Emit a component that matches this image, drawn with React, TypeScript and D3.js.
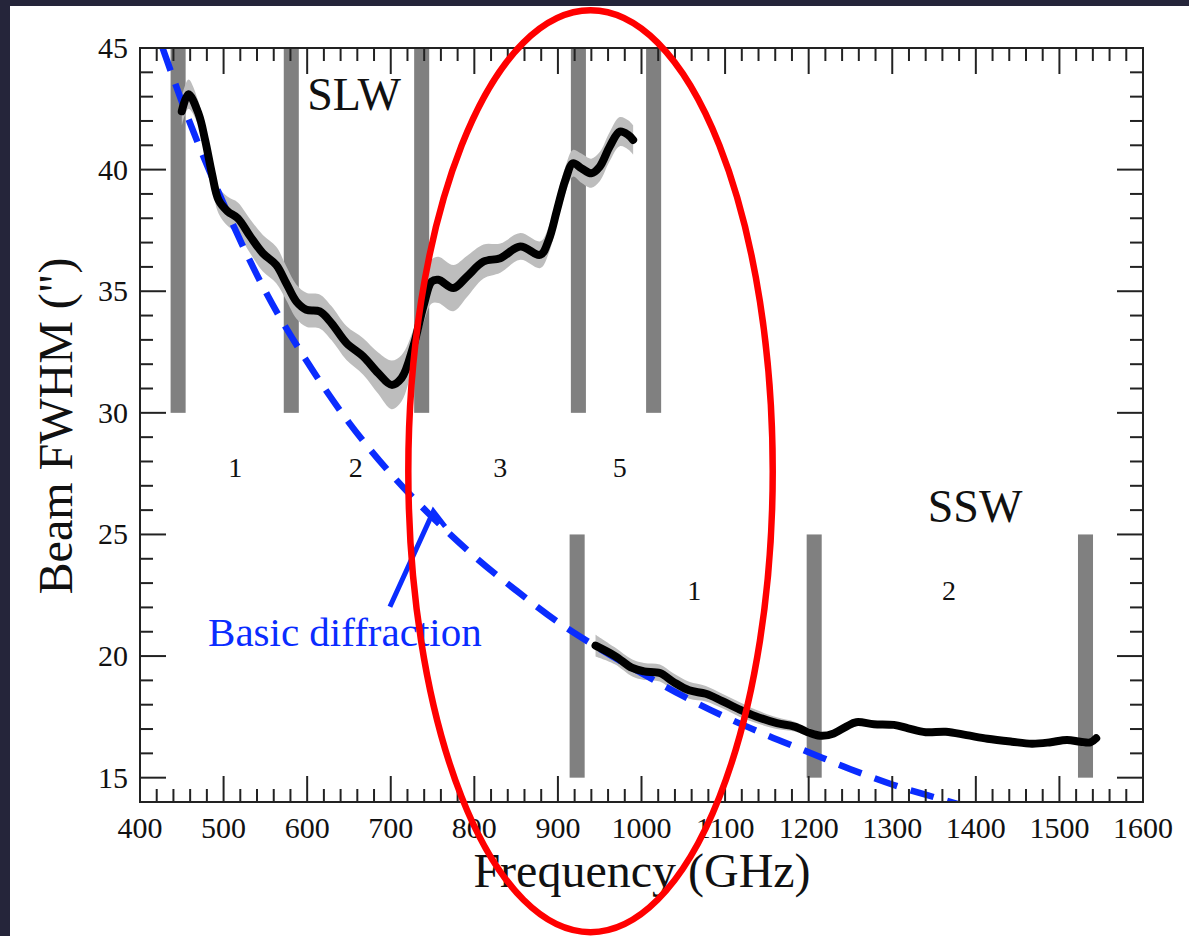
import React from 'react';
import * as d3 from 'd3';

// ---------- data ----------
const xTickValues = [400, 500, 600, 700, 800, 900, 1000, 1100, 1200, 1300, 1400, 1500, 1600];
const yTickValues = [15, 20, 25, 30, 35, 40, 45];

// SLW measured beam FWHM (GHz, arcsec, half-width of grey band)
const slwFreq = [450, 458, 470, 478, 486, 494, 505, 517, 532, 547, 563, 575, 587, 599, 615, 629, 647, 667, 685, 701, 713, 727, 739, 749, 757, 775, 791, 811, 831, 855, 879, 889, 899, 909, 918, 928, 940, 950, 962, 974, 984, 990];
const slwFwhm = [42.4, 43.1, 42.3, 41.2, 39.85, 38.75, 38.28, 38.0, 37.25, 36.56, 36.08, 35.33, 34.58, 34.24, 34.17, 33.69, 32.87, 32.32, 31.63, 31.15, 31.43, 32.73, 34.37, 35.4, 35.47, 35.13, 35.6, 36.22, 36.36, 36.84, 36.5, 37.11, 38.35, 39.58, 40.26, 40.06, 39.85, 40.12, 40.95, 41.56, 41.43, 41.22];
const slwErr = [0.6, 0.6, 0.5, 0.5, 0.5, 0.55, 0.6, 0.65, 0.7, 0.75, 0.75, 0.7, 0.7, 0.7, 0.7, 0.7, 0.7, 0.75, 0.85, 1.0, 0.95, 0.7, 0.7, 0.9, 0.95, 0.95, 0.85, 0.7, 0.6, 0.55, 0.55, 0.55, 0.55, 0.55, 0.55, 0.6, 0.6, 0.6, 0.6, 0.6, 0.6, 0.6];

// SSW measured beam FWHM
const sswFreq = [945, 968, 989, 1003, 1022, 1038, 1057, 1077, 1096, 1117, 1137, 1162, 1183, 1203, 1216, 1230, 1245, 1257, 1278, 1302, 1319, 1340, 1364, 1389, 1414, 1443, 1467, 1488, 1509, 1525, 1537, 1544];
const sswFwhm = [20.43, 20.01, 19.51, 19.37, 19.3, 18.94, 18.59, 18.45, 18.16, 17.81, 17.52, 17.24, 17.1, 16.82, 16.72, 16.82, 17.1, 17.28, 17.2, 17.17, 17.03, 16.87, 16.89, 16.75, 16.6, 16.48, 16.4, 16.45, 16.55, 16.48, 16.45, 16.62];
const sswErr = [0.45, 0.35, 0.35, 0.35, 0.35, 0.35, 0.35, 0.32, 0.3, 0.3, 0.27, 0.24, 0.2, 0.17, 0.14, 0.12, 0.12, 0.12, 0.12, 0.12, 0.12, 0.12, 0.12, 0.12, 0.12, 0.12, 0.12, 0.12, 0.12, 0.12, 0.12, 0.12];

// Basic diffraction curve
const diffFreq = [427, 450, 500, 550, 600, 650, 700, 750, 800, 850, 900, 950, 1000, 1050, 1100, 1150, 1200, 1250, 1300, 1350, 1385];
const diffFwhm = [45.0, 42.8, 38.6, 35.0, 32.1, 29.6, 27.5, 25.7, 24.1, 22.7, 21.4, 20.3, 19.3, 18.35, 17.5, 16.75, 16.05, 15.35, 14.72, 14.2, 13.85];

// pointer from label to curve
const pointerFreq = [699, 751, 765];
const pointerFwhm = [22.03, 25.95, 25.33];

// grey band-edge markers (centre frequency, GHz)
const slwEdges = [445.6, 581, 737, 924.5, 1014.5];
const sswEdges = [923, 1206.6, 1531.2];
const edgeWidthGHz = 18;
const slwEdgeRange = [30, 45];
const sswEdgeRange = [15, 25];

const slwBandNames = ['1', '2', '3', '5'];
const slwBandFreq = [514, 658, 831, 974];
const sswBandNames = ['1', '2'];
const sswBandFreq = [1063, 1368];

// red highlight ellipse (centre GHz / arcsec, radii)
const ellipseCenter = [939, 27.6];
const ellipseRadius = [218, 18.95];

// ---------- layout ----------
const W = 1189;
const H = 936;
const L = 140, R = 1143, T = 48, B = 802;
const FONT = '"Liberation Serif", "Times New Roman", Times, serif';

const x = d3.scaleLinear().domain([400, 1600]).range([L, R]);
const y = d3.scaleLinear().domain([14, 45]).range([B, T]);

type P = { f: number; v: number; e: number };

export default function App() {
  React.useEffect(() => {
    document.body.style.margin = '0';
  }, []);

  const slw: P[] = slwFreq.map((f, i) => ({ f, v: slwFwhm[i], e: slwErr[i] }));
  const ssw: P[] = sswFreq.map((f, i) => ({ f, v: sswFwhm[i], e: sswErr[i] }));

  const line = d3.line<P>().x(d => x(d.f)).y(d => y(d.v)).curve(d3.curveCatmullRom.alpha(0.5));
  const area = d3
    .area<P>()
    .x(d => x(d.f))
    .y0(d => y(d.v - d.e))
    .y1(d => y(d.v + d.e))
    .curve(d3.curveCatmullRom.alpha(0.5));

  const diffPts = diffFreq.map((f, i) => [x(f), y(diffFwhm[i])] as [number, number]);
  const diffPath = d3.line().curve(d3.curveMonotoneX)(diffPts) || '';
  const pointerPath = d3.line()(pointerFreq.map((f, i) => [x(f), y(pointerFwhm[i])] as [number, number])) || '';

  const xMinor = d3.range(420, 1600, 20).filter(v => v % 100 !== 0);
  const yMinor = d3.range(15, 45, 1).filter(v => v % 5 !== 0);
  const MAJ = 26, MIN = 13;
  const tickStroke = '#222';

  const bw = x(400 + edgeWidthGHz) - x(400);
  const ecx = x(ellipseCenter[0]);
  const ecy = y(ellipseCenter[1]);
  const erx = x(ellipseCenter[0] + ellipseRadius[0]) - ecx;
  const ery = ecy - y(ellipseCenter[1] + ellipseRadius[1]);

  return (
    <svg
      width={W}
      height={H}
      style={{ position: 'fixed', left: 0, top: 0, display: 'block' }}
      fontFamily={FONT}
    >
      <rect x={0} y={0} width={W} height={H} fill="#25253a" />
      <rect x={10} y={6} width={W - 10} height={H - 6} fill="#ffffff" />

      <defs>
        <clipPath id="plotClip">
          <rect x={L} y={T} width={R - L} height={B - T} />
        </clipPath>
      </defs>

      {/* band edge markers */}
      {slwEdges.map((f, i) => (
        <rect key={'s' + i} x={x(f) - bw / 2} y={y(slwEdgeRange[1])} width={bw}
          height={y(slwEdgeRange[0]) - y(slwEdgeRange[1])} fill="#808080" />
      ))}
      {sswEdges.map((f, i) => (
        <rect key={'w' + i} x={x(f) - bw / 2} y={y(sswEdgeRange[1])} width={bw}
          height={y(sswEdgeRange[0]) - y(sswEdgeRange[1])} fill="#808080" />
      ))}

      <g clipPath="url(#plotClip)">
        <path d={area(slw) || ''} fill="#bdbdbd" />
        <path d={area(ssw) || ''} fill="#bdbdbd" />
        <path d={diffPath} fill="none" stroke="#0a2cff" strokeWidth={6.5} strokeDasharray="24 14" />
        <path d={line(slw) || ''} fill="none" stroke="#000" strokeWidth={8} strokeLinejoin="round" strokeLinecap="round" />
        <path d={line(ssw) || ''} fill="none" stroke="#000" strokeWidth={8} strokeLinejoin="round" strokeLinecap="round" />
      </g>

      <path d={pointerPath} fill="none" stroke="#0a2cff" strokeWidth={5} />

      {/* frame */}
      <rect x={L} y={T} width={R - L} height={B - T} fill="none" stroke={tickStroke} strokeWidth={2} />

      {/* x ticks */}
      {xTickValues.map(v => (
        <g key={'xt' + v}>
          <line x1={x(v)} x2={x(v)} y1={B} y2={B - MAJ} stroke={tickStroke} strokeWidth={2} />
          <line x1={x(v)} x2={x(v)} y1={T} y2={T + MAJ} stroke={tickStroke} strokeWidth={2} />
          <text x={x(v)} y={838} textAnchor="middle" fontSize={30} fill="#111">{v}</text>
        </g>
      ))}
      {xMinor.map(v => (
        <g key={'xm' + v}>
          <line x1={x(v)} x2={x(v)} y1={B} y2={B - MIN} stroke={tickStroke} strokeWidth={2} />
          <line x1={x(v)} x2={x(v)} y1={T} y2={T + MIN} stroke={tickStroke} strokeWidth={2} />
        </g>
      ))}

      {/* y ticks */}
      {yTickValues.map(v => (
        <g key={'yt' + v}>
          <line x1={L} x2={L + MAJ} y1={y(v)} y2={y(v)} stroke={tickStroke} strokeWidth={2} />
          <line x1={R} x2={R - MAJ} y1={y(v)} y2={y(v)} stroke={tickStroke} strokeWidth={2} />
          <text x={128} y={y(v) + 10} textAnchor="end" fontSize={30} fill="#111">{v}</text>
        </g>
      ))}
      {yMinor.map(v => (
        <g key={'ym' + v}>
          <line x1={L} x2={L + MIN} y1={y(v)} y2={y(v)} stroke={tickStroke} strokeWidth={2} />
          <line x1={R} x2={R - MIN} y1={y(v)} y2={y(v)} stroke={tickStroke} strokeWidth={2} />
        </g>
      ))}

      {/* annotations */}
      <text x={x(600)} y={y(42.45)} fontSize={46} fill="#111">SLW</text>
      <text x={x(1342.5)} y={y(25.5)} fontSize={46} fill="#111">SSW</text>
      {slwBandNames.map((n, i) => (
        <text key={'bn' + i} x={x(slwBandFreq[i])} y={y(27.35)} textAnchor="middle" fontSize={28} fill="#111">{n}</text>
      ))}
      {sswBandNames.map((n, i) => (
        <text key={'sn' + i} x={x(sswBandFreq[i])} y={y(22.3)} textAnchor="middle" fontSize={28} fill="#111">{n}</text>
      ))}
      <text x={x(481.4)} y={y(20.43)} fontSize={41} fill="#0a2cff">Basic diffraction</text>

      {/* axis titles */}
      <text x={642} y={887} textAnchor="middle" fontSize={48} fill="#111">Frequency (GHz)</text>
      <text transform={`translate(72,426) rotate(-90)`} textAnchor="middle" fontSize={48} fill="#111">Beam FWHM (")</text>

      {/* red highlight ellipse */}
      <ellipse cx={ecx} cy={ecy} rx={erx} ry={ery} fill="none" stroke="#ff0000" strokeWidth={6.5} />
    </svg>
  );
}
